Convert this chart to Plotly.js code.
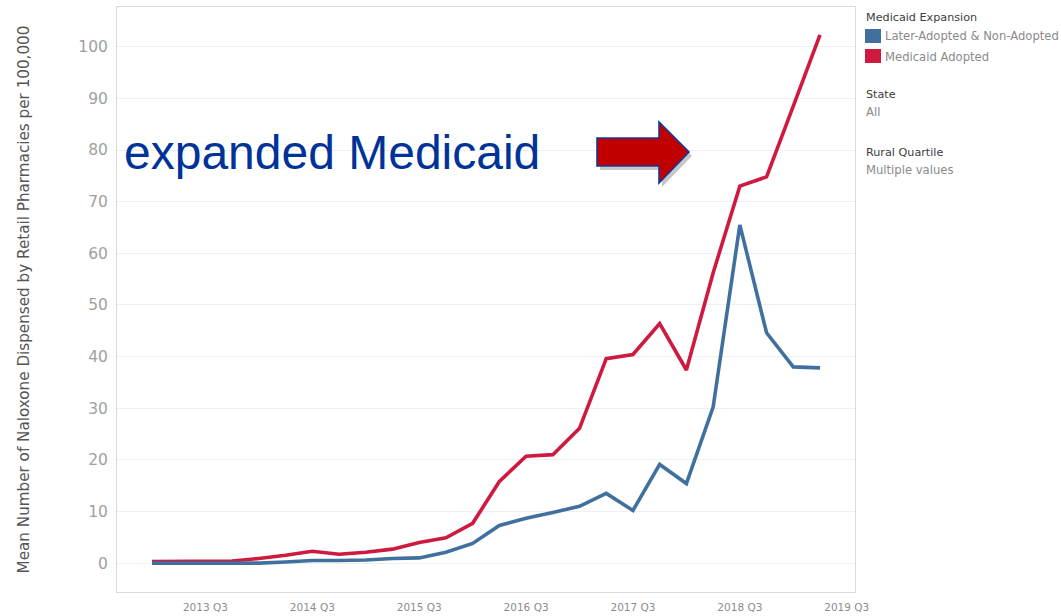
<!DOCTYPE html>
<html>
<head>
<meta charset="utf-8">
<script src="https://cdn.plot.ly/plotly-3.0.1.min.js"></script>
<style>
html,body{margin:0;padding:0;background:#fff;}
#chart{width:1061px;height:616px;}
</style>
</head>
<body>
<div id="chart"></div>
<script>
// ---- data ----
var quarters = [
  '2013 Q1','2013 Q2','2013 Q3','2013 Q4',
  '2014 Q1','2014 Q2','2014 Q3','2014 Q4',
  '2015 Q1','2015 Q2','2015 Q3','2015 Q4',
  '2016 Q1','2016 Q2','2016 Q3','2016 Q4',
  '2017 Q1','2017 Q2','2017 Q3','2017 Q4',
  '2018 Q1','2018 Q2','2018 Q3','2018 Q4',
  '2019 Q1','2019 Q2'
];
var tickLabels = ['2013 Q3','2014 Q3','2015 Q3','2016 Q3','2017 Q3','2018 Q3','2019 Q3'];
var laterAdoptedNonAdopted = [
  0.0, 0.0, 0.0, 0.0, 0.0, 0.2, 0.5, 0.5, 0.6, 0.9,
  1.0, 2.1, 3.8, 7.3, 8.7, 9.8, 11.0, 13.5, 10.2, 19.1,
  15.4, 30.2, 65.5, 44.6, 38.0, 37.8
];
var medicaidAdopted = [
  0.3, 0.3, 0.3, 0.4, 0.9, 1.5, 2.3, 1.7, 2.1, 2.7,
  4.0, 4.9, 7.7, 15.8, 20.7, 21.0, 26.1, 39.6, 40.4, 46.4,
  37.4, 56.2, 73.0, 74.8, 88.5, 102.3
];
var seriesNames = ['Later-Adopted & Non-Adopted', 'Medicaid Adopted'];
var seriesColors = ['#41709f', '#cf1a3f'];

// quarter label -> position on a continuous quarter axis
function qpos(label) {
  var y = parseInt(label.slice(0, 4), 10);
  var q = parseInt(label.slice(-1), 10);
  var y0 = parseInt(quarters[0].slice(0, 4), 10);
  var q0 = parseInt(quarters[0].slice(-1), 10);
  return (y - y0) * 4 + (q - q0);
}
var xs = quarters.map(qpos);
var tickPos = tickLabels.map(qpos);

// ---- layout helpers (pixel -> paper) ----
var PL = 117, PR = 855, PT = 7, PB = 592;
function px(x) { return (x - PL) / (PR - PL); }
function py(y) { return (PB - y) / (PB - PT); }
function path(pts, dx, dy) {
  dx = dx || 0; dy = dy || 0;
  return pts.map(function (p, i) {
    return (i === 0 ? 'M' : 'L') + px(p[0] + dx).toFixed(5) + ',' + py(p[1] + dy).toFixed(5);
  }).join(' ') + ' Z';
}
var arrowPts = [[597,138],[659,138],[659,122],[689,152],[659,183],[659,166],[597,166]];

var traces = [
  {x: xs, y: medicaidAdopted, name: seriesNames[1], type: 'scatter', mode: 'lines',
   line: {color: seriesColors[1], width: 3.6}, showlegend: false, hoverinfo: 'x+y+name'},
  {x: xs, y: laterAdoptedNonAdopted, name: seriesNames[0], type: 'scatter', mode: 'lines',
   line: {color: seriesColors[0], width: 3.6}, showlegend: false, hoverinfo: 'x+y+name'}
];

var legFont = {family: 'DejaVu Sans', size: 11.6, color: '#8a8a8a'};
var headFont = {family: 'DejaVu Sans', size: 11.2, color: '#3c3c3c'};
function ann(text, x, y, font) {
  return {text: text, xref: 'paper', yref: 'paper', x: px(x), y: py(y),
          xanchor: 'left', yanchor: 'middle', showarrow: false, font: font};
}

var layout = {
  width: 1061, height: 616,
  paper_bgcolor: '#ffffff', plot_bgcolor: '#ffffff',
  margin: {l: PL, r: 1061 - PR, t: PT, b: 616 - PB, pad: 0},
  showlegend: false,
  xaxis: {
    range: [-1.31, 26.31],
    tickmode: 'array', tickvals: tickPos, ticktext: tickLabels,
    showgrid: false, zeroline: false,
    showline: true, linecolor: '#dadada', linewidth: 1, mirror: true,
    ticks: '', ticklabelstandoff: 5,
    tickfont: {family: 'DejaVu Sans', size: 10.5, color: '#8c8c8c'}
  },
  yaxis: {
    range: [-5.6, 107.7],
    tick0: 0, dtick: 10,
    showgrid: true, gridcolor: '#efefef', gridwidth: 1, zeroline: false,
    showline: true, linecolor: '#dadada', linewidth: 1, mirror: true,
    ticks: '', ticklabelstandoff: 5,
    tickfont: {family: 'DejaVu Sans', size: 15.5, color: '#a0a0a0'},
    title: {text: 'Mean Number of Naloxone Dispensed by Retail Pharmacies per 100,000',
            font: {family: 'DejaVu Sans', size: 15.2, color: '#555555'}, standoff: 44}
  },
  shapes: [
    {type: 'path', xref: 'paper', yref: 'paper', path: path(arrowPts, 3, 4),
     fillcolor: 'rgba(0,0,0,0.22)', line: {width: 0}, layer: 'above'},
    {type: 'path', xref: 'paper', yref: 'paper', path: path(arrowPts),
     fillcolor: '#c00000', line: {color: '#14389a', width: 1.6}, layer: 'above'},
    {type: 'rect', xref: 'paper', yref: 'paper', x0: px(865), x1: px(881), y0: py(29), y1: py(43),
     fillcolor: seriesColors[0], line: {width: 0}},
    {type: 'rect', xref: 'paper', yref: 'paper', x0: px(865), x1: px(881), y0: py(49), y1: py(63),
     fillcolor: seriesColors[1], line: {width: 0}}
  ],
  annotations: [
    {text: 'expanded Medicaid', xref: 'paper', yref: 'paper', x: px(122), y: py(152),
     xanchor: 'left', yanchor: 'middle', showarrow: false,
     font: {family: 'Liberation Sans, Arial, sans-serif', size: 48, color: '#003399'}},
    ann('Medicaid Expansion', 864, 17, headFont),
    ann(seriesNames[0], 883, 36, legFont),
    ann(seriesNames[1], 883, 57, legFont),
    ann('State', 864, 94, headFont),
    ann('All', 864, 112, legFont),
    ann('Rural Quartile', 864, 152, headFont),
    ann('Multiple values', 864, 170, legFont)
  ]
};

Plotly.newPlot('chart', traces, layout, {displayModeBar: false, responsive: false});
</script>
</body>
</html>
